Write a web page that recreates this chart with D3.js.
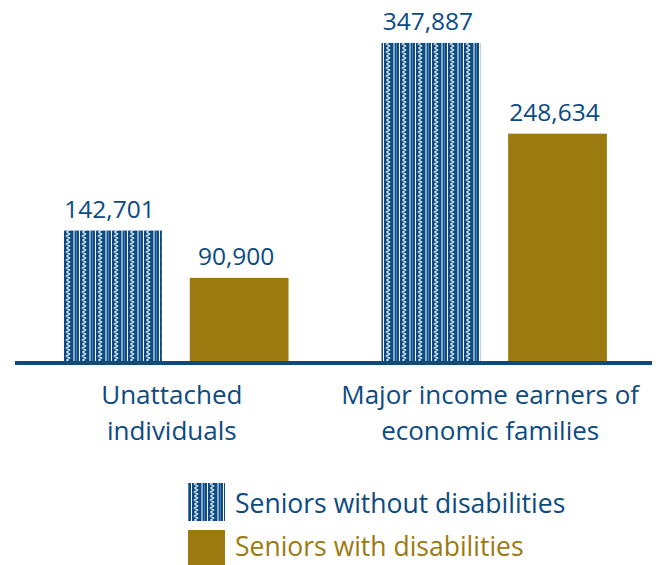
<!DOCTYPE html>
<html>
<head>
<meta charset="utf-8">
<script src="https://cdn.jsdelivr.net/npm/d3@7"></script>
<style>
  html, body { margin: 0; padding: 0; background: #ffffff; }
  svg { display: block; font-family: "Open Sans", "DejaVu Sans", sans-serif; }
</style>
</head>
<body>
<svg id="chart" width="660" height="565"></svg>
<script>
// Chart data
const categories = [["Unattached", "individuals"], ["Major income earners of", "economic families"]];
const seriesNames = ["Seniors without disabilities", "Seniors with disabilities"];
const withoutDisabilities = [142701, 347887];
const withDisabilities = [90900, 248634];

const BLUE = "#0c4a80";
const GOLD = "#9c7a10";

const svg = d3.select("#chart");
const fmt = d3.format(",");

// Striped fill with a zigzag thread for the first series
const defs = svg.append("defs");
const pat = defs.append("pattern")
  .attr("id", "stripes")
  .attr("patternUnits", "userSpaceOnUse")
  .attr("x", 63).attr("y", 0)
  .attr("width", 16).attr("height", 8);
pat.append("rect").attr("width", 16).attr("height", 8).attr("fill", BLUE);
pat.append("rect").attr("x", 0).attr("width", 1).attr("height", 8).attr("fill", "#ffffff");
pat.append("polyline")
  .attr("points", "3.5,0 6.5,2 3.5,4 6.5,6 3.5,8")
  .attr("fill", "none").attr("stroke", "#dfe8f2").attr("stroke-width", 1.4);
pat.append("rect").attr("x", 10).attr("width", 2).attr("height", 8).attr("fill", "#86a9d0");
pat.append("rect").attr("x", 13).attr("width", 1).attr("height", 8).attr("fill", "#4a7fb5");

const groups = categories.map(c => c.join(" "));
const values = [withoutDisabilities, withDisabilities];
const fills = ["url(#stripes)", GOLD];

const x0 = d3.scaleBand().domain(groups).range([16, 654]).paddingInner(0.292).paddingOuter(0.148);
const x1 = d3.scaleBand().domain(seriesNames).range([0, x0.bandwidth()]).paddingInner(0.22);
const baseY = 361;
const y = d3.scaleLinear().domain([0, 350000]).range([baseY, 41]);

const rows = [];
groups.forEach((g, gi) => {
  seriesNames.forEach((s, si) => {
    rows.push({ group: g, series: s, si, value: values[si][gi] });
  });
});

svg.append("g").selectAll("rect")
  .data(rows)
  .join("rect")
  .attr("x", d => x0(d.group) + x1(d.series))
  .attr("y", d => y(d.value))
  .attr("width", x1.bandwidth())
  .attr("height", d => y(0) - y(d.value))
  .attr("fill", d => fills[d.si]);

// Value labels
svg.append("g").selectAll("text")
  .data(rows)
  .join("text")
  .attr("x", d => x0(d.group) + x1(d.series) + x1.bandwidth() / 2 - 3)
  .attr("y", d => y(d.value) - 13)
  .attr("text-anchor", "middle")
  .attr("fill", BLUE)
  .attr("font-size", 24.5)
  .text(d => fmt(d.value));

// Baseline
svg.append("line")
  .attr("x1", x0.range()[0] - 1).attr("x2", x0.range()[1] - 2)
  .attr("y1", baseY + 2).attr("y2", baseY + 2)
  .attr("stroke", BLUE).attr("stroke-width", 4);

// Category labels
const catG = svg.append("g");
groups.forEach((g, gi) => {
  const cx = x0(g) + x0.bandwidth() / 2 - 4;
  const t = catG.append("text")
    .attr("x", cx)
    .attr("y", 404)
    .attr("text-anchor", "middle")
    .attr("fill", BLUE)
    .attr("font-size", 26);
  categories[gi].forEach((line, li) => {
    t.append("tspan")
      .attr("x", cx)
      .attr("dy", li === 0 ? 0 : 36)
      .text(line);
  });
});

// Legend
const legend = svg.append("g");
const legendColors = [BLUE, GOLD];
const legendTop = [483, 530];
const legendBaseline = [513, 556];
seriesNames.forEach((s, i) => {
  legend.append("rect")
    .attr("x", 188).attr("y", legendTop[i])
    .attr("width", 37).attr("height", 38)
    .attr("fill", fills[i]);
  legend.append("text")
    .attr("x", 235).attr("y", legendBaseline[i])
    .attr("fill", legendColors[i])
    .attr("font-size", 26.5)
    .text(s);
});
</script>
</body>
</html>
